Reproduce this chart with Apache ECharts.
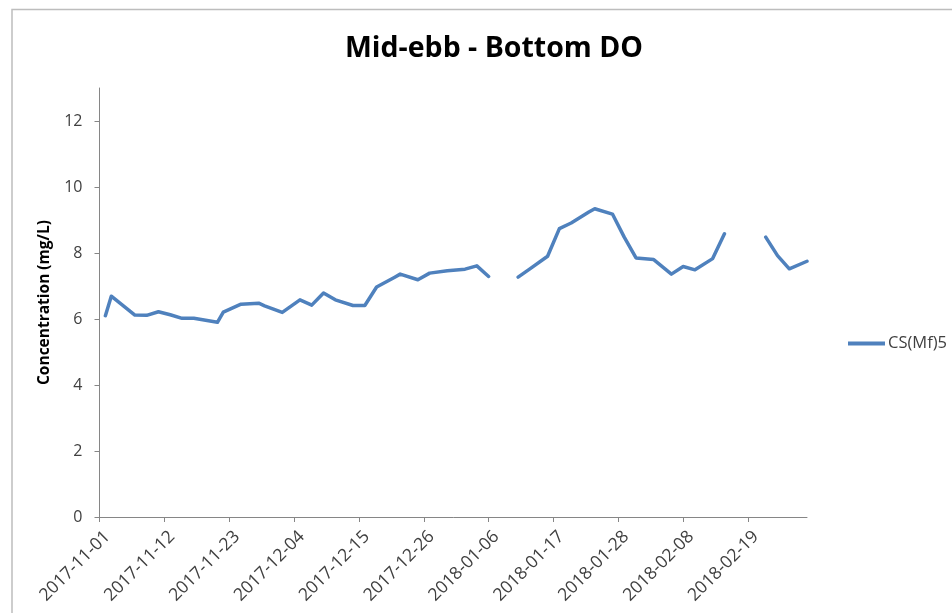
<!DOCTYPE html>
<html>
<head>
<meta charset="utf-8">
<script src="https://cdn.jsdelivr.net/npm/echarts@6/dist/echarts.min.js"></script>
<style>html,body{margin:0;padding:0;background:#fff;}#c{width:952px;height:613px;}</style>
</head>
<body>
<div id="c"></div>
<script>
const startDate = '2017-11-01';
const endDate = '2018-03-01';
const tickDays = [0, 11, 22, 33, 44, 55, 66, 77, 88, 99, 110];
const dates = [
  '2017-11-02','2017-11-03','2017-11-07','2017-11-09','2017-11-11','2017-11-13','2017-11-15','2017-11-17',
  '2017-11-21','2017-11-22','2017-11-25','2017-11-28','2017-11-29','2017-12-02','2017-12-05','2017-12-07',
  '2017-12-09','2017-12-11','2017-12-14','2017-12-16','2017-12-18','2017-12-21','2017-12-22','2017-12-25',
  '2017-12-27','2017-12-30','2018-01-02','2018-01-04','2018-01-06','2018-01-09',
  '2018-01-11','2018-01-13','2018-01-16','2018-01-18','2018-01-20','2018-01-23','2018-01-24','2018-01-27',
  '2018-01-29','2018-01-31','2018-02-03','2018-02-06','2018-02-08','2018-02-10','2018-02-13','2018-02-15',
  '2018-02-17','2018-02-19',
  '2018-02-22','2018-02-24','2018-02-26','2018-03-01'
];
const values = [
  6.10, 6.69, 6.12, 6.11, 6.22, 6.13, 6.02, 6.02,
  5.90, 6.21, 6.45, 6.48, 6.40, 6.20, 6.58, 6.42,
  6.79, 6.58, 6.41, 6.41, 6.97, 7.26, 7.36, 7.19,
  7.39, 7.46, 7.51, 7.61, 7.29, null,
  7.27, 7.52, 7.90, 8.74, 8.91, 9.24, 9.34, 9.18,
  8.48, 7.85, 7.80, 7.36, 7.59, 7.49, 7.83, 8.58,
  null, null,
  8.48, 7.92, 7.52, 7.75
];
const seriesName = 'CS(Mf)5';
const yTicks = [0, 2, 4, 6, 8, 10, 12];

const DAY = 86400000;
const t0 = Date.parse(startDate + 'T00:00:00Z');
const toDay = s => Math.round((Date.parse(s + 'T00:00:00Z') - t0) / DAY);
const fmt = d => new Date(t0 + d * DAY).toISOString().slice(0, 10);
const data = dates.map((d, i) => [toDay(d), values[i]]);

const chart = echarts.init(document.getElementById('c'), null, {renderer: 'canvas'});
chart.setOption({
  animation: false,
  backgroundColor: '#ffffff',
  title: {
    text: 'Mid-ebb - Bottom DO',
    left: 489, top: 29, textAlign: 'center',
    textStyle: {fontFamily: 'Open Sans', fontWeight: 'bold', fontSize: 28.5, color: '#000'}
  },
  legend: {
    left: 843, top: 330,
    icon: 'rect', itemWidth: 37, itemHeight: 4, itemGap: 4,
    textStyle: {fontFamily: 'Open Sans', fontSize: 16.5, color: '#404040', padding: [0, 0, 0, -2]},
    data: [seriesName]
  },
  grid: {left: 99.5, right: 145, top: 88, bottom: 96, containLabel: false},
  xAxis: {
    type: 'value', min: 0, max: toDay(endDate), interval: 11,
    axisLine: {lineStyle: {color: '#868686', width: 1}},
    axisTick: {show: true, length: 5, lineStyle: {color: '#868686'}, customValues: tickDays},
    splitLine: {show: false},
    axisLabel: {
      customValues: tickDays,
      rotate: 45, margin: 9,
      fontFamily: 'Open Sans', fontSize: 17.5, color: '#404040',
      formatter: v => '{d|' + fmt(v) + '}',
      rich: {d: {fontFamily: 'Open Sans', fontSize: 17.5, color: '#404040', padding: [22, 0, 0, 0]}}
    }
  },
  yAxis: {
    type: 'value', min: 0, max: 13, interval: 2,
    name: 'Concentration (mg/L)', nameLocation: 'middle', nameGap: 46.5,
    nameTextStyle: {fontFamily: 'Open Sans', fontWeight: 'bold', fontSize: 15.5, color: '#000'},
    axisLine: {show: true, lineStyle: {color: '#868686', width: 1}},
    axisTick: {show: true, length: 5, lineStyle: {color: '#868686'}, customValues: yTicks},
    splitLine: {show: false},
    axisLabel: {customValues: yTicks, margin: 17, fontFamily: 'Open Sans', fontSize: 16, color: '#404040'}
  },
  graphic: [{
    type: 'rect', silent: true, z: -1,
    shape: {x: 12, y: 9.5, width: 1000, height: 800},
    style: {fill: 'none', stroke: '#bdbdbd', lineWidth: 1.5}
  }],
  series: [{
    name: seriesName, type: 'line', data: data,
    showSymbol: false, symbol: 'none', connectNulls: false,
    lineStyle: {color: '#4F81BD', width: 3.5, cap: 'round', join: 'round'},
    itemStyle: {color: '#4F81BD'}
  }]
});
</script>
</body>
</html>
